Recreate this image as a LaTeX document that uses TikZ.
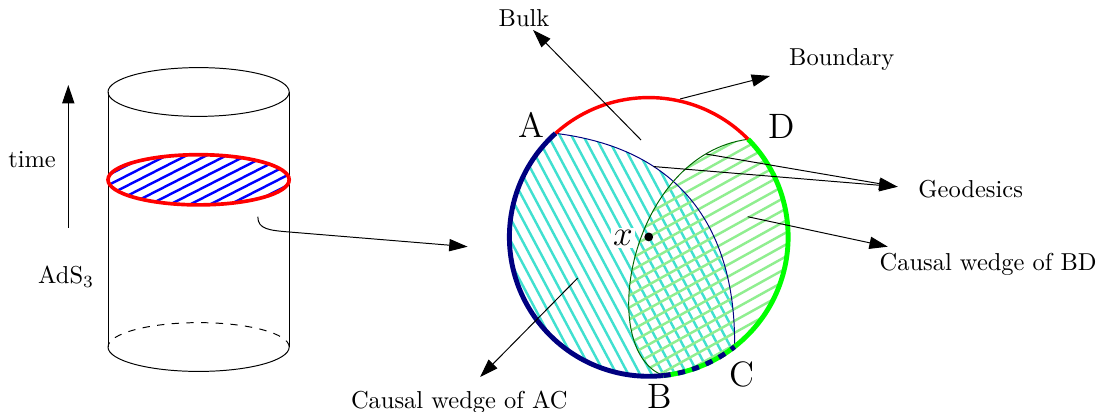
\documentclass[tikz,border=0pt]{standalone}
\usepackage{tikz}
\usetikzlibrary{arrows.meta, calc}
\definecolor{navy}{RGB}{0,0,128}
\definecolor{turq}{RGB}{64,224,208}
\definecolor{lgreen}{RGB}{144,238,144}

\begin{document}
\begin{tikzpicture}[>={Triangle[length=7.5pt, width=5pt]},
  hatchAC/.style={turq, line width=1pt},
  hatchBD/.style={lgreen, line width=1pt},
  hatchslice/.style={blue, line width=1pt},
  ptlabel/.style={font=\Large}]
  \useasboundingbox (0,0) rectangle (15.80,5.91);

  % Cylinder
  \coordinate (top) at (2.85,4.59);
  \coordinate (bot) at (2.85,0.93);
  \coordinate (cut) at (2.85,3.33);
  \draw (top) ellipse (1.30 and 0.35);
  \draw ($(top)+(-1.30,0)$) -- ($(bot)+(-1.30,0)$);
  \draw ($(top)+(1.30,0)$) -- ($(bot)+(1.30,0)$);
  \draw ($(bot)+(-1.30,0)$) arc[start angle=180, end angle=360, x radius=1.30, y radius=0.35];
  \draw[dashed] ($(bot)+(1.30,0)$) arc[start angle=0, end angle=180, x radius=1.30, y radius=0.35];
  % Constant time slice
  \begin{scope}
    \clip (cut) ellipse (1.30 and 0.36);
    \foreach \k in {-7,...,7}
      \draw[hatchslice, shift={(cut)}, rotate=27] (-2,\k*0.13) -- (2,\k*0.13);
  \end{scope}
  \draw[red, line width=1.5pt] (cut) ellipse (1.30 and 0.36);

  % Time arrow
  \coordinate (t0) at (0.98,2.64);
  \coordinate (t1) at (0.98,4.69);
  \draw[->] (t0) -- (t1);
  \node (time) at (0.46,3.62) {time};
  \node (ads) at (0.95,1.94) {AdS$_3$};

  % Slice mapped to the disk
  \coordinate (m0) at (3.70,2.80);
  \coordinate (m1) at (4.16,2.58);
  \coordinate (m2) at (6.71,2.37);
  \draw[->] (m0) .. controls (3.70,2.62) and (3.86,2.605) .. (m1) -- (m2);

  % Disk and boundary points
  \coordinate (O) at (9.31,2.51);
  \path (O) ++(132:2) coordinate (A);
  \path (O) ++(44.5:2) coordinate (D);
  \path (O) ++(-84:2) coordinate (B);
  \path (O) ++(-52:2) coordinate (C);

  % Causal wedge of AC
  \begin{scope}
    \clip (A) arc[start angle=132, end angle=308, radius=2]
      .. controls (10.56,2.47) and (9.90,3.76) .. (A);
    \foreach \k in {-15,...,15}
      \draw[hatchAC, shift={(O)}, rotate=-62] (-2.5,\k*0.148) -- (2.5,\k*0.148);
  \end{scope}
  % Causal wedge of BD
  \begin{scope}
    \clip (D) arc[start angle=44.5, end angle=-84, radius=2]
      .. controls (8.54,0.89) and (9.04,3.69) .. (D);
    \foreach \k in {-15,...,15}
      \draw[hatchBD, shift={(O)}, rotate=29] (-2.5,\k*0.15) -- (2.5,\k*0.15);
  \end{scope}

  % Geodesics
  \draw[navy] (A) .. controls (9.90,3.76) and (10.56,2.47) .. (C);
  \draw[green!40!black] (D) .. controls (9.04,3.69) and (8.54,0.89) .. (B);

  % Boundary arcs
  \draw[red, line width=1.4pt] (A) arc[start angle=132, end angle=44.5, radius=2];
  \draw[navy, line width=2pt] (A) arc[start angle=132, end angle=276, radius=2];
  \draw[green, line width=2pt] (D) arc[start angle=44.5, end angle=-84, radius=2];
  \draw[navy, line width=2pt, dash pattern=on 3pt off 3pt] (B) arc[start angle=-84, end angle=-52, radius=2];

  \node[ptlabel] (lA) at (7.63,4.12) {A};
  \node[ptlabel] (lD) at (11.22,4.09) {D};
  \node[ptlabel] (lB) at (9.47,0.22) {B};
  \node[ptlabel] (lC) at (10.65,0.53) {C};
  \fill (O) circle (1.8pt);
  \node[ptlabel, fill=white, inner sep=1pt] (lx) at (8.94,2.50) {$x$};

  % Labels with arrows
  \coordinate (bulk0) at (9.20,3.90);
  \coordinate (bulk1) at (7.65,5.48);
  \node (bulk) at (7.52,5.65) {Bulk};
  \draw[->] (bulk0) -- (bulk1);

  \coordinate (bdy0) at (9.76,4.49);
  \coordinate (bdy1) at (11.05,4.82);
  \node (bdy) at (12.08,5.05) {Boundary};
  \draw[->] (bdy0) -- (bdy1);

  \coordinate (geoAC) at (9.38,3.52);
  \coordinate (geoBD) at (10.13,3.70);
  \coordinate (geo1) at (12.88,3.23);
  \node (geo) at (13.93,3.20) {Geodesics};
  \draw[->] (geoAC) -- (geo1);
  \draw[->] (geoBD) -- (geo1);

  \coordinate (wBD0) at (10.73,2.80);
  \coordinate (wBD1) at (12.74,2.37);
  \node (wBD) at (14.18,2.11) {Causal wedge of BD};
  \draw[->] (wBD0) -- (wBD1);

  \coordinate (wAC0) at (8.29,1.92);
  \coordinate (wAC1) at (6.89,0.50);
  \node (wAC) at (6.59,0.14) {Causal wedge of AC};
  \draw[->] (wAC0) -- (wAC1);
\end{tikzpicture}
\end{document}
